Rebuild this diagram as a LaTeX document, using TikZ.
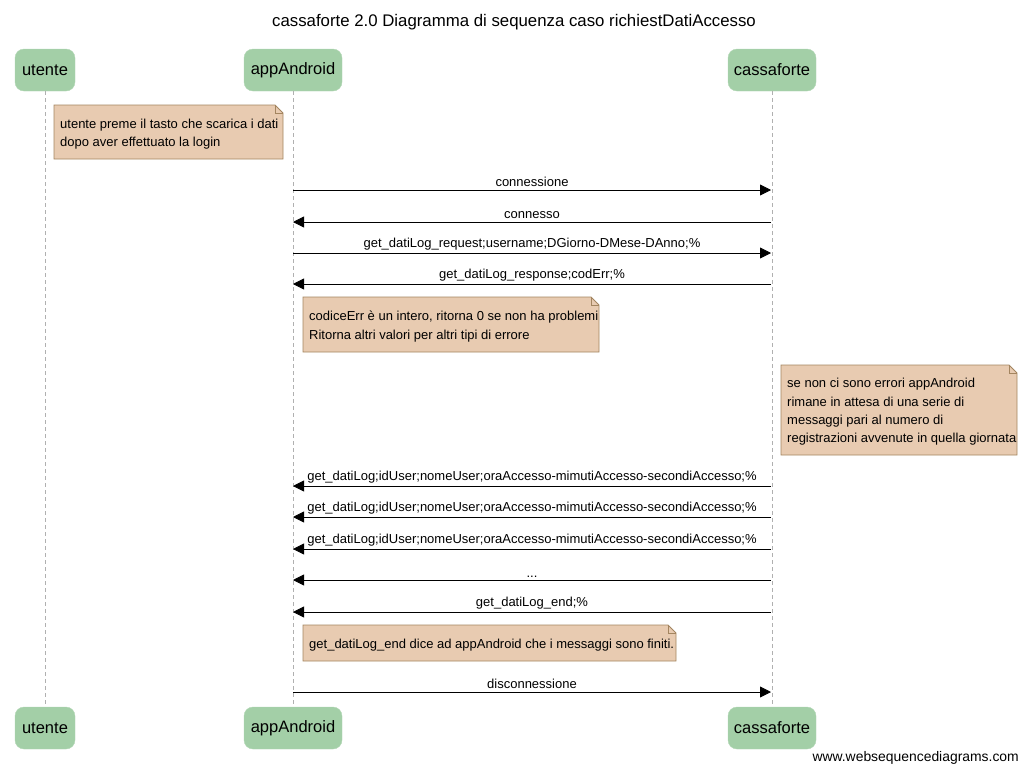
\documentclass[tikz,border=0pt]{standalone}
\usepackage{fontspec}
\setmainfont{Liberation Sans}
\usetikzlibrary{arrows.meta}
\definecolor{actorfill}{HTML}{A3CFA7}
\definecolor{notefill}{HTML}{E8CBB1}
\definecolor{notedraw}{HTML}{A38560}
\definecolor{lifegray}{HTML}{B0B0B0}
\tikzset{
  actor/.style={draw=actorfill!85!white, fill=actorfill, rounded corners=9pt, minimum height=42pt, inner xsep=5pt, font=\fontsize{16.5}{18}\selectfont},
  lifeline/.style={draw=lifegray, dash pattern=on 4pt off 3pt, line width=0.8pt},
  msg/.style={draw=black, line width=0.8pt, -{Triangle[length=11pt,width=11pt]}},
  msglabel/.style={font=\fontsize{13}{15}\selectfont, inner sep=1pt, anchor=base},
  notebg/.style={fill=notefill, draw=notedraw, line width=0.8pt},
  notetext/.style={font=\fontsize{13}{18.3}\selectfont, align=left, inner sep=0pt, anchor=west},
}
\newcommand\notebox[6]{%
  \draw[notebg] (#2,#3) -- ({#4-8},#3) -- (#4,{#3+8}) -- (#4,#5) -- (#2,#5) -- cycle;
  \draw[draw=notedraw, line width=0.8pt] ({#4-8},#3) -- ({#4-8},{#3+8}) -- (#4,{#3+8});
  \node[notetext] (#1) at ({#2+6},{(#3+#5)/2+2}) {#6};
}
\begin{document}
\begin{tikzpicture}[x=1pt,y=-1pt]
\useasboundingbox (0,0) rectangle (1027,772);
% title
\node[font=\fontsize{16.8}{18}\selectfont] (title) at (514,22) {cassaforte 2.0 Diagramma di sequenza caso richiestDatiAccesso};
% actors top
\node[actor, minimum width=60pt] (ut) at (45,70) {utente};
\node[actor, minimum width=98pt] (ap) at (293,70) {appAndroid};
\node[actor, minimum width=88pt] (ca) at (772,70) {cassaforte};
% actors bottom
\node[actor, minimum width=60pt] (utb) at (45,728) {utente};
\node[actor, minimum width=98pt] (apb) at (293,728) {appAndroid};
\node[actor, minimum width=88pt] (cab) at (772,728) {cassaforte};
% lifelines
\draw[lifeline] (ut.south) -- (utb.north);
\draw[lifeline] (ap.south) -- (apb.north);
\draw[lifeline] (ca.south) -- (cab.north);
% notes
\notebox{n1}{54}{105}{283}{159}{utente preme il tasto che scarica i dati\\dopo aver effettuato la login}
\notebox{n2}{303}{297}{599}{352}{codiceErr è un intero, ritorna 0 se non ha problemi\\Ritorna altri valori per altri tipi di errore}
\notebox{n3}{781}{365}{1017}{455}{se non ci sono errori appAndroid\\rimane in attesa di una serie di\\messaggi pari al numero di\\registrazioni avvenute in quella giornata}
\notebox{n4}{303}{625}{676}{661}{get\_datiLog\_end dice ad appAndroid che i messaggi sono finiti.}
% message endpoints
\foreach \i/\y in {1/190,2/222,3/253,4/284,5/486,6/517,7/549,8/580,9/612,10/692}{
  \coordinate (a\i) at (293,\y);
  \coordinate (c\i) at (771,\y);
}
\draw[msg] (a1) -- (c1) node[msglabel, pos=0.5, above=1.5pt] (l1) {connessione};
\draw[msg] (c2) -- (a2) node[msglabel, pos=0.5, above=1.5pt] (l2) {connesso};
\draw[msg] (a3) -- (c3) node[msglabel, pos=0.5, above=1.5pt] (l3) {get\_datiLog\_request;username;DGiorno-DMese-DAnno;\%};
\draw[msg] (c4) -- (a4) node[msglabel, pos=0.5, above=1.5pt] (l4) {get\_datiLog\_response;codErr;\%};
\draw[msg] (c5) -- (a5) node[msglabel, pos=0.5, above=1.5pt] (l5) {get\_datiLog;idUser;nomeUser;oraAccesso-mimutiAccesso-secondiAccesso;\%};
\draw[msg] (c6) -- (a6) node[msglabel, pos=0.5, above=1.5pt] (l6) {get\_datiLog;idUser;nomeUser;oraAccesso-mimutiAccesso-secondiAccesso;\%};
\draw[msg] (c7) -- (a7) node[msglabel, pos=0.5, above=1.5pt] (l7) {get\_datiLog;idUser;nomeUser;oraAccesso-mimutiAccesso-secondiAccesso;\%};
\draw[msg] (c8) -- (a8) node[msglabel, pos=0.5, above=1.5pt] (l8) {...};
\draw[msg] (c9) -- (a9) node[msglabel, pos=0.5, above=1.5pt] (l9) {get\_datiLog\_end;\%};
\draw[msg] (a10) -- (c10) node[msglabel, pos=0.5, above=1.5pt] (l10) {disconnessione};
% footer
\node[font=\fontsize{13.9}{15}\selectfont, anchor=east, inner sep=0pt] (www) at (1019,758) {www.websequencediagrams.com};
\end{tikzpicture}
\end{document}
